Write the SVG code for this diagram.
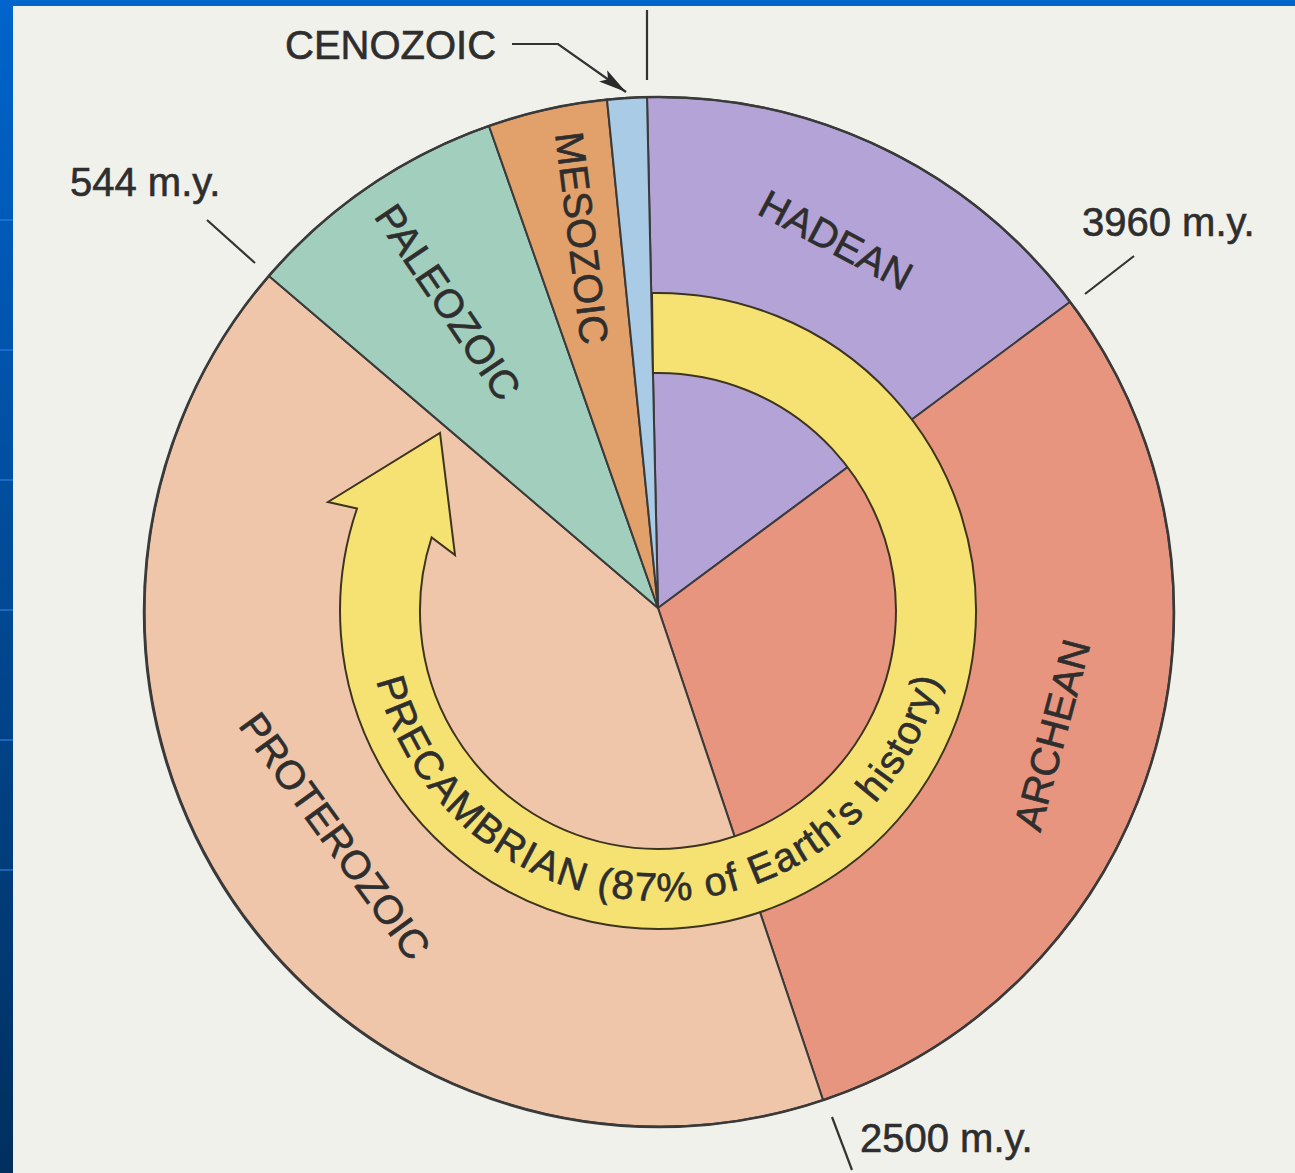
<svg xmlns="http://www.w3.org/2000/svg" width="1295" height="1173" viewBox="0 0 1295 1173">
<defs>
<linearGradient id="sidebar" x1="0" y1="0" x2="0" y2="1">
<stop offset="0" stop-color="#0064cc"/>
<stop offset="1" stop-color="#002f5e"/>
</linearGradient>
<marker id="arrowhead" viewBox="0 0 28 14" refX="28" refY="7" markerWidth="28" markerHeight="14" markerUnits="userSpaceOnUse" orient="auto">
<path d="M0,0 L28,7 L0,14 L6,7 z" fill="#2a2a2a"/>
</marker>
<path id="precPath" d="M376.6,681.2 A290 290 0 0 0 940,678.7"/>
</defs>
<style>
.sector{stroke:#3a3a3a;stroke-width:2;stroke-linejoin:round}
.lbl{font-family:"Liberation Sans",Arial,Helvetica,sans-serif;font-size:40px;fill:#2e2e2e;stroke:#2e2e2e;stroke-width:0.6px}
.era{text-anchor:middle;dominant-baseline:central}
.tick{stroke:#333;stroke-width:2.2;fill:none}
</style>
<rect x="0" y="0" width="1295" height="1173" fill="#f1f1ec"/>
<rect x="0" y="0" width="1295" height="6" fill="#0066cc"/>
<rect x="0" y="0" width="13" height="1173" fill="url(#sidebar)"/>
<g stroke="#2a7fe0" stroke-width="2" opacity="0.6">
<line x1="0" y1="220" x2="13" y2="220"/>
<line x1="0" y1="350" x2="13" y2="350"/>
<line x1="0" y1="480" x2="13" y2="480"/>
<line x1="0" y1="610" x2="13" y2="610"/>
<line x1="0" y1="740" x2="13" y2="740"/>
<line x1="0" y1="870" x2="13" y2="870"/>
</g>

<g id="hadean">
<path class="sector" fill="#b3a3d7" d="M658,608 L647,97.1 A515 515 0 0 1 1070,302 Z"/>
<text class="lbl era" transform="translate(836,240) rotate(28)">HADEAN</text>
</g>
<g id="archean">
<path class="sector" fill="#e8957f" d="M658,608 L1070,302 A515 515 0 0 1 823,1100 Z"/>
</g>
<g id="proterozoic">
<path class="sector" fill="#efc6aa" d="M658,608 L823,1100 A515 515 0 0 1 269,276 Z"/>
</g>
<g id="paleozoic">
<path class="sector" fill="#a2cfbd" d="M658,608 L269,276 A515 515 0 0 1 489,126 Z"/>
<text class="lbl era" transform="translate(448,302) rotate(56)">PALEOZOIC</text>
</g>
<g id="mesozoic">
<path class="sector" fill="#e2a06b" d="M658,608 L489,126 A515 515 0 0 1 607,99.6 Z"/>
<text class="lbl era" transform="translate(582,238) rotate(83)">MESOZOIC</text>
</g>
<g id="cenozoic">
<path class="sector" fill="#a9cbe5" d="M658,608 L607,99.6 A515 515 0 0 1 647,97.1 Z"/>
</g>
<circle cx="659" cy="612" r="515" fill="none" stroke="#3a3a3a" stroke-width="2.5"/>

<g id="precambrian">
<path fill="#f5e272" stroke="#3d3420" stroke-width="2" stroke-linejoin="miter" d="M652,293.06 A318 318 0 1 1 357,508.5 L328,502 L440,433 L455,555 L431.6,537.5 A238 238 0 1 0 653,373.05 Z"/>
<text class="lbl" font-size="39" letter-spacing="1.5" text-anchor="middle"><textPath href="#precPath" startOffset="50%">PRECAMBRIAN (87% of Earth's history)</textPath></text>
</g>

<g id="labels">
<text class="lbl era" transform="translate(1052,735) rotate(-75)">ARCHEAN</text>
<text class="lbl era" transform="translate(335,836) rotate(54)">PROTEROZOIC</text>
<text class="lbl" x="70" y="196">544 m.y.</text>
<text class="lbl" x="1082" y="236">3960 m.y.</text>
<text class="lbl" x="860" y="1152">2500 m.y.</text>
<text class="lbl" x="285" y="59" font-size="42">CENOZOIC</text>
</g>

<g id="connectors">
<line class="tick" x1="647" y1="10" x2="647" y2="80"/>
<line class="tick" x1="207" y1="220" x2="255" y2="263"/>
<line class="tick" x1="1085" y1="294" x2="1134" y2="256"/>
<line class="tick" x1="832" y1="1117" x2="852" y2="1170"/>
<path class="tick" d="M512,44 L558,44 L626,92" marker-end="url(#arrowhead)"/>
</g>
</svg>
